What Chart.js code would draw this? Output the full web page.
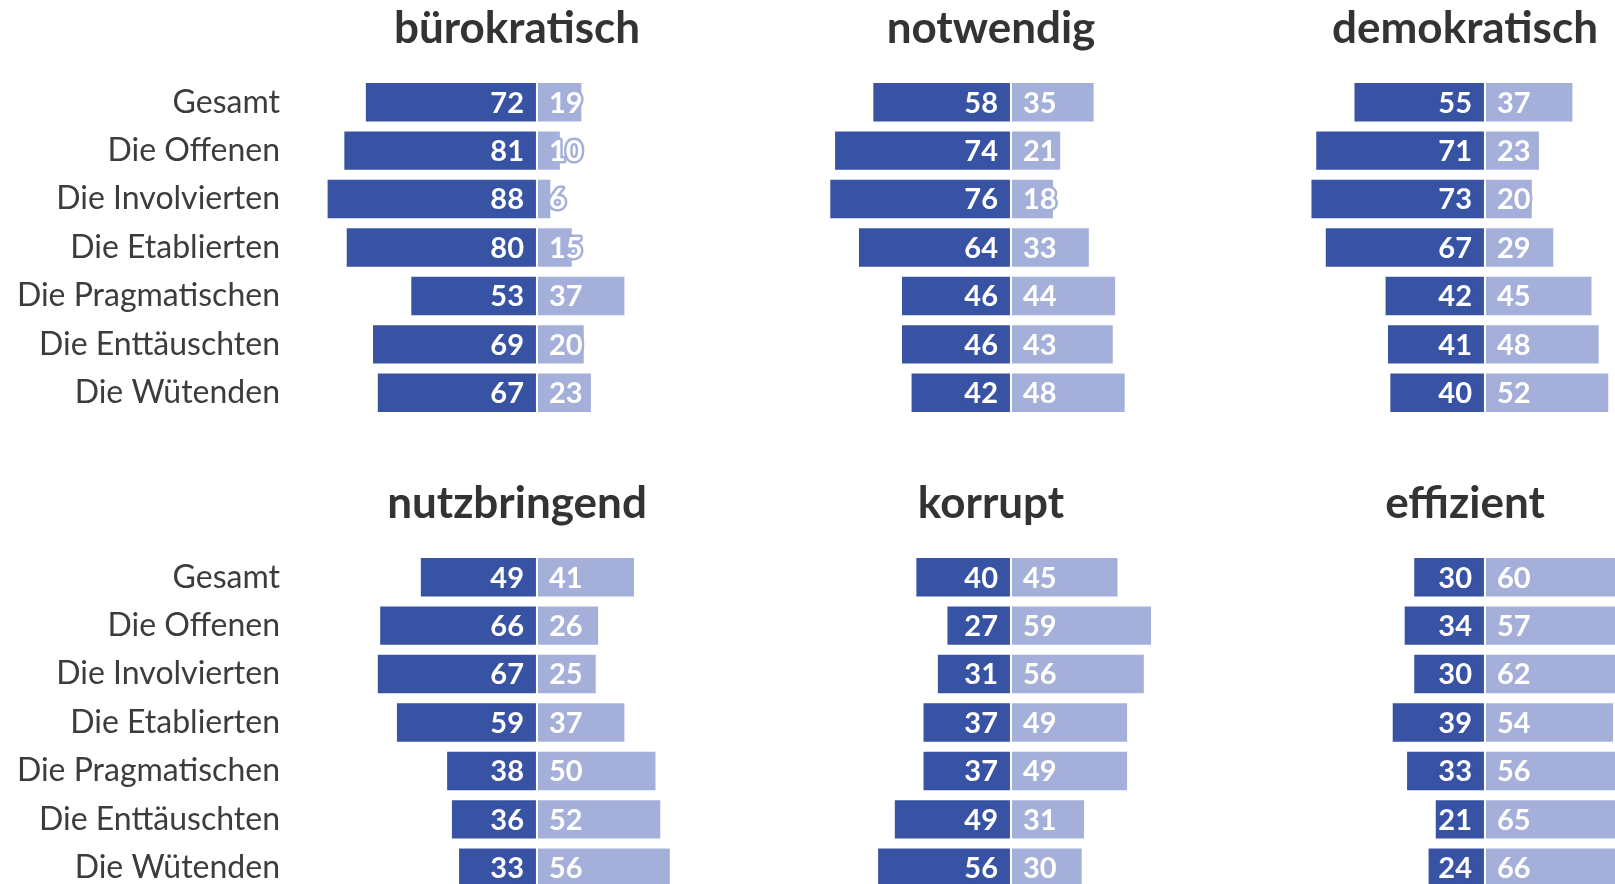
<!DOCTYPE html>
<html>
<head>
<meta charset="utf-8">
<script src="https://cdn.jsdelivr.net/npm/chart.js@4"></script>
<style>
    html, body { margin: 0; padding: 0; background: #fff; overflow: hidden; }
    #wrap { position: relative; width: 1615px; height: 884px; overflow: hidden; }
    #wrap canvas { position: absolute; }
</style>
</head>
<body>
<div id="wrap">
    <canvas id="c1" width="754" height="475" style="left:0;top:0"></canvas>
    <canvas id="c2" width="474" height="475" style="left:754px;top:0"></canvas>
    <canvas id="c3" width="474" height="475" style="left:1228px;top:0"></canvas>
    <canvas id="c4" width="754" height="475" style="left:0;top:475px"></canvas>
    <canvas id="c5" width="474" height="475" style="left:754px;top:475px"></canvas>
    <canvas id="c6" width="474" height="475" style="left:1228px;top:475px"></canvas>
</div>
<script>
const groups = ['Gesamt', 'Die Offenen', 'Die Involvierten', 'Die Etablierten',
    'Die Pragmatischen', 'Die Enttäuschten', 'Die Wütenden'];

const titles = ['bürokratisch', 'notwendig', 'demokratisch', 'nutzbringend', 'korrupt', 'effizient'];

// dark = trifft zu, light = trifft nicht zu
const buerokratischYes = [72, 81, 88, 80, 53, 69, 67];
const buerokratischNo = [19, 10, 6, 15, 37, 20, 23];
const notwendigYes = [58, 74, 76, 64, 46, 46, 42];
const notwendigNo = [35, 21, 18, 33, 44, 43, 48];
const demokratischYes = [55, 71, 73, 67, 42, 41, 40];
const demokratischNo = [37, 23, 20, 29, 45, 48, 52];
const nutzbringendYes = [49, 66, 67, 59, 38, 36, 33];
const nutzbringendNo = [41, 26, 25, 37, 50, 52, 56];
const korruptYes = [40, 27, 31, 37, 37, 49, 56];
const korruptNo = [45, 59, 56, 49, 49, 31, 30];
const effizientYes = [30, 34, 30, 39, 33, 21, 24];
const effizientNo = [60, 57, 62, 54, 56, 65, 66];

const DARK = '#3853a4';
const LIGHT = '#a5b0da';
const FONT = "'Source Sans Pro', Lato, sans-serif";

// white numbers with a halo in the bar colour
const valueLabels = {
    id: 'valueLabels',
    afterDatasetsDraw(chart) {
        const ctx = chart.ctx;
        ctx.save();
        ctx.font = 'bold 29px ' + FONT;
        ctx.textBaseline = 'middle';
        ctx.lineJoin = 'round';
        ctx.lineWidth = 5;
        chart.data.datasets.forEach((ds, i) => {
            const meta = chart.getDatasetMeta(i);
            meta.data.forEach((bar, j) => {
                const v = Math.abs(ds.data[j]);
                const zero = chart.scales.x.getPixelForValue(0);
                let x;
                if (i === 0) {
                    ctx.textAlign = 'right';
                    x = zero - 13;
                } else {
                    ctx.textAlign = 'left';
                    x = zero + 12;
                }
                ctx.strokeStyle = ds.backgroundColor;
                ctx.strokeText(v, x, bar.y + 1);
                ctx.fillStyle = '#fff';
                ctx.fillText(v, x, bar.y + 1);
            });
        });
        ctx.restore();
    }
};

function makePanel(canvasId, title, yes, no, showGroups) {
    const ctx = document.getElementById(canvasId).getContext('2d');
    const yScale = {
        stacked: true,
        display: showGroups,
        grid: { display: false, drawTicks: false, tickLength: 0 },
        border: { display: false },
        ticks: {
            autoSkip: false,
            padding: 0,
            color: '#3c3c3c',
            font: { family: FONT, size: 32 }
        }
    };
    if (showGroups) {
        yScale.afterFit = function (scale) {
            scale.width = 280;
        };
    }
    return new Chart(ctx, {
        type: 'bar',
        data: {
            labels: groups,
            datasets: [{
                label: 'trifft zu',
                data: yes.map(v => -v),
                backgroundColor: DARK,
                borderColor: 'rgba(255,255,255,0.75)',
                borderWidth: 1,
                borderSkipped: false
            }, {
                label: 'trifft nicht zu',
                data: no,
                backgroundColor: LIGHT,
                borderColor: 'rgba(255,255,255,0.75)',
                borderWidth: 1,
                borderSkipped: false
            }]
        },
        options: {
            indexAxis: 'y',
            responsive: false,
            animation: false,
            layout: {
                padding: { left: 0, right: 0, top: 0, bottom: 58 }
            },
            scales: {
                x: {
                    stacked: true,
                    display: false,
                    min: -107.5,
                    max: 90.8
                },
                y: yScale
            },
            datasets: {
                bar: {
                    categoryPercentage: 1,
                    barPercentage: 0.835
                }
            },
            plugins: {
                legend: { display: false },
                tooltip: { enabled: false },
                title: {
                    display: true,
                    text: title,
                    fullSize: false,
                    color: '#333',
                    font: { family: FONT, size: 44, weight: 'bold', lineHeight: 1 },
                    padding: { top: 7, bottom: 27 }
                }
            }
        },
        plugins: [valueLabels]
    });
}

makePanel('c1', titles[0], buerokratischYes, buerokratischNo, true);
makePanel('c2', titles[1], notwendigYes, notwendigNo, false);
makePanel('c3', titles[2], demokratischYes, demokratischNo, false);
makePanel('c4', titles[3], nutzbringendYes, nutzbringendNo, true);
makePanel('c5', titles[4], korruptYes, korruptNo, false);
makePanel('c6', titles[5], effizientYes, effizientNo, false);
</script>
</body>
</html>
